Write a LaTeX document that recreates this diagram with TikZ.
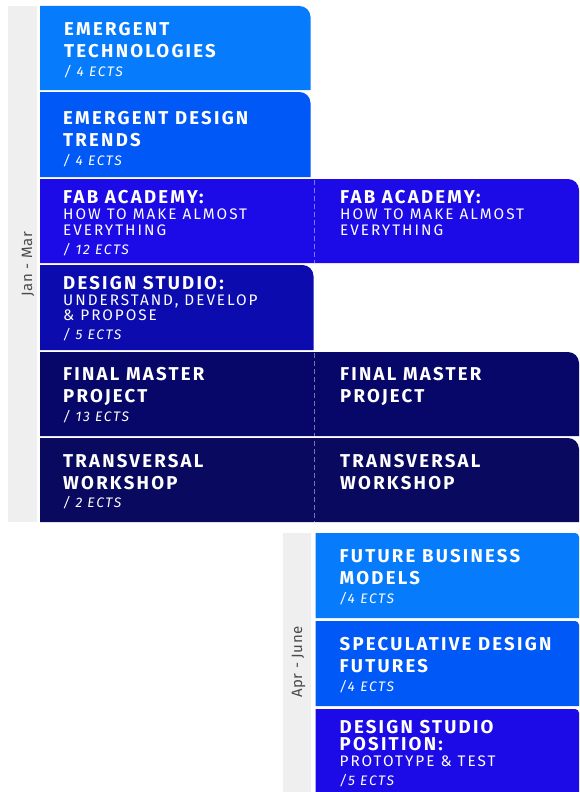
\documentclass[tikz,border=0pt]{standalone}
\usepackage{fontspec}
\setmainfont{Fira Sans}
\newfontfamily\ttlfam[LetterSpace=12]{Fira Sans}
\newfontfamily\subfam[LetterSpace=13]{Fira Sans}
\newfontfamily\ectsfam[LetterSpace=12]{Fira Sans}
\newfontfamily\sidefam[LetterSpace=4]{Fira Sans}
\definecolor{cA}{HTML}{067BFC}
\definecolor{cB}{HTML}{0058F6}
\definecolor{cC}{HTML}{1C0BE6}
\definecolor{cD}{HTML}{0B0BAE}
\definecolor{cE}{HTML}{07076A}
\definecolor{cF}{HTML}{09095F}
\definecolor{stripgray}{HTML}{EFEFEF}
\definecolor{sidetext}{HTML}{4A4A4A}
\newcommand\blockTR[6]{%
  \fill[#5] (#1,#4) -- (#1,#2) -- ({#3-#6},#2)
    .. controls ({#3-0.45*#6},#2) and (#3,{#2+0.45*#6}) .. (#3,{#2+#6})
    -- (#3,#4) -- cycle;}
\tikzset{
  ttl/.style={anchor=base west, inner sep=0pt, text=white,
    font=\ttlfam\bfseries\fontsize{18.6}{18.6}\selectfont},
  subt/.style={anchor=base west, inner sep=0pt, text=white,
    font=\subfam\fontsize{15.3}{15.3}\selectfont},
  ects/.style={anchor=base west, inner sep=0pt, text=white,
    font=\ectsfam\itshape\fontsize{13.8}{13.8}\selectfont},
  side/.style={rotate=90, anchor=base, inner sep=0pt, text=sidetext,
    font=\sidefam\fontsize{15}{15}\selectfont},
  divider/.style={white, opacity=0.45, line width=0.6pt, dash pattern=on 5pt off 3pt}
}
\begin{document}
\begin{tikzpicture}[x=1pt, y=-1pt]
\useasboundingbox (0,0) rectangle (579,792);
% grey period strips
\fill[stripgray] (8,6) rectangle (37,522);
\fill[stripgray] (283,533) rectangle (311,792);
% first period blocks
\blockTR{40}{6}{310.5}{90}{cA}{11}
\blockTR{40}{92}{310.5}{177}{cB}{11}
\blockTR{40}{179}{579}{263}{cC}{11}
\blockTR{40}{265}{313.5}{350}{cD}{11}
\blockTR{40}{352}{579}{436}{cE}{11}
\blockTR{40}{438}{579}{522}{cF}{11}
% second period blocks
\blockTR{315.5}{533}{579}{618}{cA}{4}
\blockTR{315.5}{621}{579}{706}{cB}{4}
\blockTR{315.5}{709}{579}{792}{cC}{4}
% dashed dividers
\coordinate (d1a) at (314.3,180);
\coordinate (d1b) at (314.3,263);
\coordinate (d2a) at (314.3,353);
\coordinate (d2b) at (314.3,522);
\draw[divider] (d1a) -- (d1b);
\draw[divider] (d2a) -- (d2b);
% side labels
\node[side] (janmar) at (32,264) {Jan - Mar};
\node[side] (aprjune) at (302,662) {Apr - June};
% block texts, first period
\node[ttl] (et1) at (64,36) {EMERGENT};
\node[ttl] (et2) at (64,58) {TECHNOLOGIES};
\node[ects] (et3) at (64,76) {/ 4 ECTS};
\node[ttl] (ed1) at (63,124) {EMERGENT DESIGN};
\node[ttl] (ed2) at (63,146) {TRENDS};
\node[ects] (ed3) at (63,165) {/ 4 ECTS};
\node[ttl] (fa1) at (63,203) {FAB ACADEMY:};
\node[subt] (fa2) at (63,219) {HOW TO MAKE ALMOST};
\node[subt] (fa3) at (63,235) {EVERYTHING};
\node[ects] (fa4) at (63,254) {/ 12 ECTS};
\node[ttl] (fb1) at (340,203) {FAB ACADEMY:};
\node[subt] (fb2) at (340,219) {HOW TO MAKE ALMOST};
\node[subt] (fb3) at (340,235) {EVERYTHING};
\node[ttl] (ds1) at (63,289) {DESIGN STUDIO:};
\node[subt] (ds2) at (63,305) {UNDERSTAND, DEVELOP};
\node[subt] (ds3) at (63,320.5) {\& PROPOSE};
\node[ects] (ds4) at (63,339) {/ 5 ECTS};
\node[ttl] (fm1) at (63,380) {FINAL MASTER};
\node[ttl] (fm2) at (63,402) {PROJECT};
\node[ects] (fm3) at (63,421) {/ 13 ECTS};
\node[ttl] (fn1) at (340,380) {FINAL MASTER};
\node[ttl] (fn2) at (340,402) {PROJECT};
\node[ttl] (tw1) at (63,467) {TRANSVERSAL};
\node[ttl] (tw2) at (63,489) {WORKSHOP};
\node[ects] (tw3) at (63,507.5) {/ 2 ECTS};
\node[ttl] (tx1) at (340,467) {TRANSVERSAL};
\node[ttl] (tx2) at (340,489) {WORKSHOP};
% block texts, second period
\node[ttl] (fu1) at (339.5,562) {FUTURE BUSINESS};
\node[ttl] (fu2) at (339.5,584.5) {MODELS};
\node[ects] (fu3) at (339.5,603) {/4 ECTS};
\node[ttl] (sp1) at (339.5,650) {SPECULATIVE DESIGN};
\node[ttl] (sp2) at (339.5,672) {FUTURES};
\node[ects] (sp3) at (339.5,691.5) {/4 ECTS};
\node[ttl] (dp1) at (339.5,733) {DESIGN STUDIO};
\node[ttl] (dp2) at (339.5,750) {POSITION:};
\node[subt] (dp3) at (339.5,766.5) {PROTOTYPE \& TEST};
\node[ects] (dp4) at (339.5,785) {/5 ECTS};
\end{tikzpicture}
\end{document}
